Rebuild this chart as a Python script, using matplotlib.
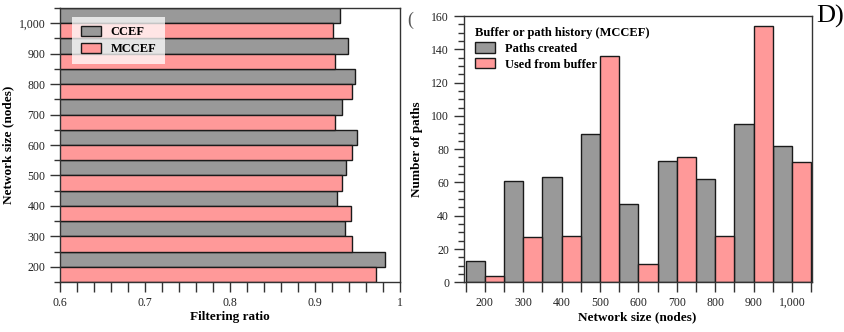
import matplotlib
matplotlib.use("Agg")
import matplotlib.pyplot as plt
from matplotlib.ticker import MultipleLocator, FixedLocator

plt.rcParams['font.family'] = ['Liberation Serif', 'DejaVu Serif']

# データ
sizes = [200, 300, 400, 500, 600, 700, 800, 900, 1000]
size_labels = ['200', '300', '400', '500', '600', '700', '800', '900', '1,000']
ccef_ratio = [0.982, 0.935, 0.926, 0.937, 0.949, 0.932, 0.947, 0.939, 0.930]
mccef_ratio = [0.972, 0.944, 0.942, 0.932, 0.943, 0.923, 0.944, 0.924, 0.921]
paths_created = [13, 61, 63, 89, 47, 73, 62, 95, 82]
used_from_buffer = [4, 27, 28, 136, 11, 75, 28, 154, 72]
ratio_ticks = [0.6, 0.7, 0.8, 0.9, 1.0]
ratio_labels = ['0.6', '0.7', '0.8', '0.9', '1']

GRAY = '#999999'
PINK = '#ff9999'
EDGE = '#1a1a1a'
TXT = '#222222'

fig = plt.figure(figsize=(8.44, 3.32), dpi=100)
ax1 = fig.add_axes([0.0711, 0.1506, 0.4028, 0.8253])
ax2 = fig.add_axes([0.5494, 0.1497, 0.4123, 0.8021])

# 左: フィルタリング率
ax1.barh(sizes, ccef_ratio, height=50, align='edge', color=GRAY,
         edgecolor=EDGE, linewidth=1.0, label='CCEF')
ax1.barh(sizes, mccef_ratio, height=-50, align='edge', color=PINK,
         edgecolor=EDGE, linewidth=1.0, label='MCCEF')
ax1.set_xlim(0.6, 1.0)
ax1.set_ylim(150, 1050)
ax1.set_xticks(ratio_ticks)
ax1.set_xticklabels(ratio_labels)
ax1.xaxis.set_minor_locator(MultipleLocator(0.02))
ax1.set_yticks(sizes)
ax1.set_yticklabels(size_labels)
ax1.yaxis.set_minor_locator(FixedLocator([s + 50 for s in sizes] + [150]))
ax1.set_xlabel('Filtering ratio', fontweight='bold', fontsize=9.5, labelpad=2)
ax1.set_ylabel('Network size (nodes)', fontweight='bold', fontsize=9.5, labelpad=3)
leg1 = ax1.legend(loc='upper left', bbox_to_anchor=(0.035, 0.967), frameon=True,
                  fancybox=False, framealpha=0.75, edgecolor='none',
                  prop={'weight': 'bold', 'size': 9}, handlelength=1.6,
                  handleheight=0.9, borderpad=0.7, labelspacing=0.35,
                  borderaxespad=0.0)
leg1.get_frame().set_facecolor('white')

# 右: パス数
ax2.bar(sizes, paths_created, width=-50, align='edge', color=GRAY,
        edgecolor=EDGE, linewidth=1.0, label='Paths created')
ax2.bar(sizes, used_from_buffer, width=50, align='edge', color=PINK,
        edgecolor=EDGE, linewidth=1.0, label='Used from buffer')
ax2.set_xlim(145, 1051)
ax2.set_ylim(0, 160)
ax2.set_xticks(sizes)
ax2.set_xticklabels(size_labels)
ax2.xaxis.set_minor_locator(FixedLocator([s - 50 for s in sizes] + [1050]))
ax2.yaxis.set_major_locator(MultipleLocator(20))
ax2.yaxis.set_minor_locator(MultipleLocator(5))
ax2.set_xlabel('Network size (nodes)', fontweight='bold', fontsize=9.5, labelpad=2)
ax2.set_ylabel('Number of paths', fontweight='bold', fontsize=9.5, labelpad=6)
ax2.legend(loc='upper left', bbox_to_anchor=(0.0, 1.0), frameon=False,
           title='Buffer or path history (MCCEF)',
           title_fontproperties={'weight': 'bold', 'size': 9},
           alignment='left', prop={'weight': 'bold', 'size': 9},
           handlelength=1.6, handleheight=0.9, labelspacing=0.25)

for ax in (ax1, ax2):
    for sp in ax.spines.values():
        sp.set_linewidth(1.0)
        sp.set_color('#333333')
    ax.tick_params(which='major', direction='out', length=7, width=1.0,
                   labelsize=8.5, colors='#333333', labelcolor=TXT)
    ax.tick_params(which='minor', direction='out', length=4, width=1.0,
                   colors='#333333')
    ax.tick_params(axis='x', which='both', length=7)

fig.text(0.482, 0.965, '(', fontsize=13, color='#555555', va='top', ha='left')
fig.text(0.967, 0.985, 'D)', fontsize=19, va='top', ha='left')

fig.savefig('out.png', dpi=100)
